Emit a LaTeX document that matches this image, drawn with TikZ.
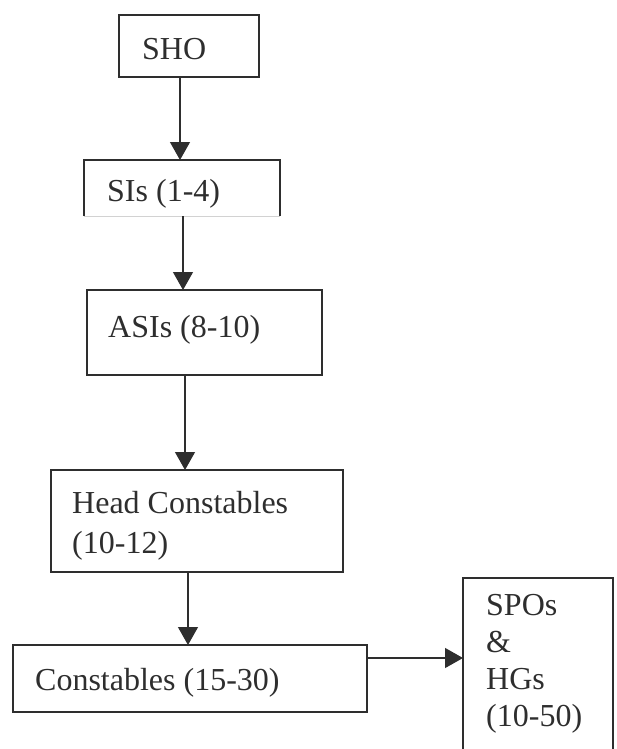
\documentclass[tikz,border=0pt]{standalone}
\usepackage{fontspec}
\setmainfont{Liberation Serif}
\usetikzlibrary{arrows.meta,calc}
\definecolor{ink}{HTML}{2E2E2E}
\begin{document}
\begin{tikzpicture}[x=1pt,y=-1pt,
  box/.style={draw=ink, line width=1.3pt, inner sep=0pt, outer sep=0pt, anchor=north west},
  lbl/.style={anchor=base west, inner sep=0pt, align=left, text=ink,
    font=\fontsize{32}{40}\selectfont},
  arr/.style={draw=ink, line width=1.3pt, -{Triangle[length=18pt,width=20pt]}}]
\useasboundingbox (0,0) rectangle (616,749);
\clip (0,0) rectangle (616,749);
% boxes
\node[box, minimum width=140pt, minimum height=62pt] (sho) at (119,15) {};
\node[inner sep=0pt, outer sep=0pt, anchor=north west, minimum width=196pt, minimum height=56pt] (si) at (84,160) {};
\draw[ink, line width=1.3pt] (si.south west) -- (si.north west) -- (si.north east) -- (si.south east);
\draw[gray!35, line width=1pt] (si.south west) -- (si.south east);
\node[box, minimum width=235pt, minimum height=85pt] (asi) at (87,290) {};
\node[box, minimum width=292pt, minimum height=102pt] (hc) at (51,470) {};
\node[box, minimum width=354pt, minimum height=67pt] (con) at (13,645) {};
\node[box, minimum width=150pt, minimum height=220pt] (spo) at (463,578) {};
% labels
\node[lbl] (tsho) at ($(sho.north west)+(23,45)$) {SHO};
\node[lbl] (tsi) at ($(si.north west)+(23,41)$) {SIs (1-4)};
\node[lbl] (tasi) at ($(asi.north west)+(21,47)$) {ASIs (8-10)};
\node[lbl] (thc) at ($(hc.north west)+(21,83)$) {Head Constables\\(10-12)};
\node[lbl, font=\fontsize{32}{37}\selectfont] (tspo) at ($(spo.north west)+(23,148)$) {SPOs\\\&\\HGs\\(10-50)};
\node[lbl] (tcon) at ($(con.north west)+(22,45)$) {Constables (15-30)};
% connectors
\draw[arr] ([xshift=61pt]sho.south west) coordinate (c1) -- (c1 |- si.north);
\draw[arr] ([xshift=99pt]si.south west) coordinate (c2) -- (c2 |- asi.north);
\draw[arr] ([xshift=98pt]asi.south west) coordinate (c3) -- (c3 |- hc.north);
\draw[arr] ([xshift=137pt]hc.south west) coordinate (c4) -- (c4 |- con.north);
\draw[arr] ([yshift=-13pt]con.north east) coordinate (c5) -- (c5 -| spo.west);
\end{tikzpicture}
\end{document}
